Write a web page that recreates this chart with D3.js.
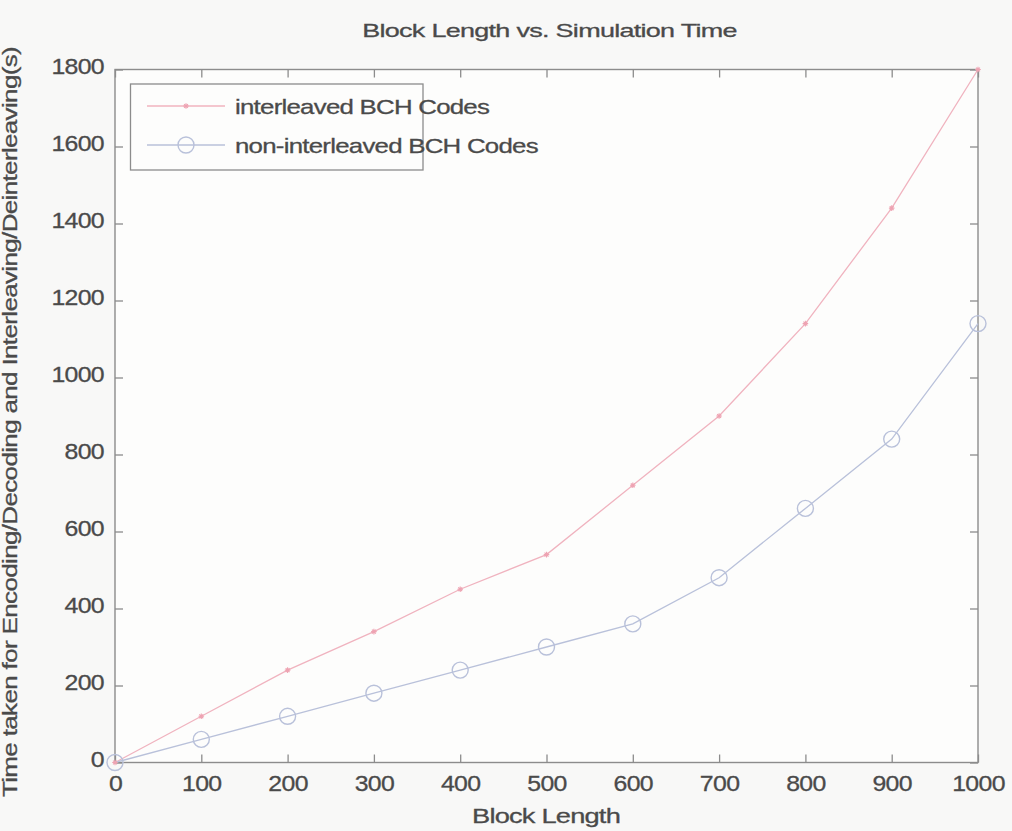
<!DOCTYPE html>
<html><head><meta charset="utf-8">
<script src="https://cdn.jsdelivr.net/npm/d3@7"></script>
<style>
body{margin:0;background:#f8f8f7;}
svg{display:block;font-family:"Liberation Sans",Arial,sans-serif;}
</style></head>
<body>
<svg id="chart" width="1012" height="831"></svg>
<script>
const blockLength = [0,100,200,300,400,500,600,700,800,900,1000];
const interleaved = [0,120,240,340,450,540,720,900,1140,1440,1800];
const nonInterleaved = [0,60,120,180,240,300,360,480,660,840,1140];
const xTicks = [0,100,200,300,400,500,600,700,800,900,1000];
const yTicks = [0,200,400,600,800,1000,1200,1400,1600,1800];
const seriesNames = ["interleaved BCH Codes","non-interleaved BCH Codes"];
const titleText = "Block Length vs. Simulation Time";
const xLabel = "Block Length";
const yLabel = "Time taken for Encoding/Decoding and Interleaving/Deinterleaving(s)";

const svg = d3.select("#chart");
const L=115, R=978, T=69.5, B=762.5;
const x = d3.scaleLinear().domain([0,1000]).range([L,R]);
const y = d3.scaleLinear().domain([0,1800]).range([B,T]);
const axisCol="#8c8c8c", textCol="#4a4a4a";
const redCol="#f0b3bf", blueCol="#b9c1da";

svg.append("rect").attr("x",L).attr("y",T).attr("width",R-L).attr("height",B-T)
  .attr("fill","#fdfdfc").attr("stroke",axisCol).attr("stroke-width",1.4);

// stretched text helper (scan of the original shows wide, heavy glyphs)
function stext(parent, tx, ty, str, size, sx, ls, anchor, rot){
  const g = parent.append("g").attr("transform",`translate(${tx},${ty})${rot?` rotate(${rot})`:""}`);
  g.append("text").attr("transform",`scale(${sx},1)`).attr("text-anchor",anchor||"start")
    .attr("fill",textCol).attr("stroke",textCol).attr("stroke-width",0.3)
    .attr("letter-spacing",ls+"px").attr("font-size",size).text(str);
  return g;
}

const tl=8;
function styleTicks(g){
  g.select(".domain").remove();
  g.selectAll(".tick line").attr("stroke",axisCol).attr("stroke-width",1.3);
}
const tickSx=1.13, tickSize=22, tickLs=-0.6;
const gx = svg.append("g").attr("transform",`translate(0,${B})`)
  .call(d3.axisBottom(x).tickValues(xTicks).tickSize(-tl).tickFormat(""))
  .call(styleTicks);
gx.selectAll(".tick").each(function(d){
  stext(d3.select(this),0,28,d3.format("d")(d),tickSize,tickSx,tickLs,"middle");
});
svg.append("g").attr("transform",`translate(0,${T})`)
  .call(d3.axisTop(x).tickValues(xTicks).tickSize(-tl).tickFormat(""))
  .call(styleTicks);
const gy = svg.append("g").attr("transform",`translate(${L},0)`)
  .call(d3.axisLeft(y).tickValues(yTicks).tickSize(-tl).tickFormat(""))
  .call(styleTicks);
gy.selectAll(".tick").each(function(d){
  stext(d3.select(this),-11,4,d3.format("d")(d),tickSize,tickSx,tickLs,"end");
});
svg.append("g").attr("transform",`translate(${R},0)`)
  .call(d3.axisRight(y).tickValues(yTicks).tickSize(-tl).tickFormat(""))
  .call(styleTicks);

const line = d3.line().x((d,i)=>x(blockLength[i])).y(d=>y(d));
svg.append("path").datum(interleaved).attr("d",line).attr("fill","none").attr("stroke",redCol).attr("stroke-width",1.3);
svg.append("path").datum(nonInterleaved).attr("d",line).attr("fill","none").attr("stroke",blueCol).attr("stroke-width",1.3);

function star(g,cx,cy,s){
  g.append("path").attr("d",`M${cx-s},${cy}L${cx+s},${cy}M${cx},${cy-s}L${cx},${cy+s}M${cx-s*0.7},${cy-s*0.7}L${cx+s*0.7},${cy+s*0.7}M${cx-s*0.7},${cy+s*0.7}L${cx+s*0.7},${cy-s*0.7}`)
   .attr("stroke","#eea3b2").attr("stroke-width",1.1);
}
const mk = svg.append("g");
interleaved.forEach((v,i)=>star(mk,x(blockLength[i]),y(v),2.8));
svg.append("g").selectAll("circle").data(nonInterleaved).join("circle")
  .attr("cx",(d,i)=>x(blockLength[i])).attr("cy",d=>y(d)).attr("r",8)
  .attr("fill","none").attr("stroke",blueCol).attr("stroke-width",1.4);

// legend
const lg = svg.append("g");
lg.append("rect").attr("x",130.5).attr("y",84).attr("width",292.5).attr("height",86)
  .attr("fill","#fdfdfc").attr("stroke",axisCol).attr("stroke-width",1.3);
const rows=[106,145];
lg.append("line").attr("x1",147).attr("x2",225).attr("y1",rows[0]).attr("y2",rows[0]).attr("stroke",redCol).attr("stroke-width",1.3);
star(lg,186,rows[0],2.8);
lg.append("line").attr("x1",147).attr("x2",225).attr("y1",rows[1]).attr("y2",rows[1]).attr("stroke",blueCol).attr("stroke-width",1.3);
lg.append("circle").attr("cx",186).attr("cy",rows[1]).attr("r",8).attr("fill","none").attr("stroke",blueCol).attr("stroke-width",1.4);
seriesNames.forEach((n,i)=>{
  stext(lg,235,rows[i]+7.5,n,21,1.23,-0.6,"start");
});

stext(svg,(L+R)/2+3,37,titleText,19,1.42,-0.5,"middle");
stext(svg,546,823,xLabel,20.5,1.33,-0.6,"middle");
stext(svg,17,422,yLabel,20,1.30,-0.5,"middle",-90);
</script>
</body></html>
